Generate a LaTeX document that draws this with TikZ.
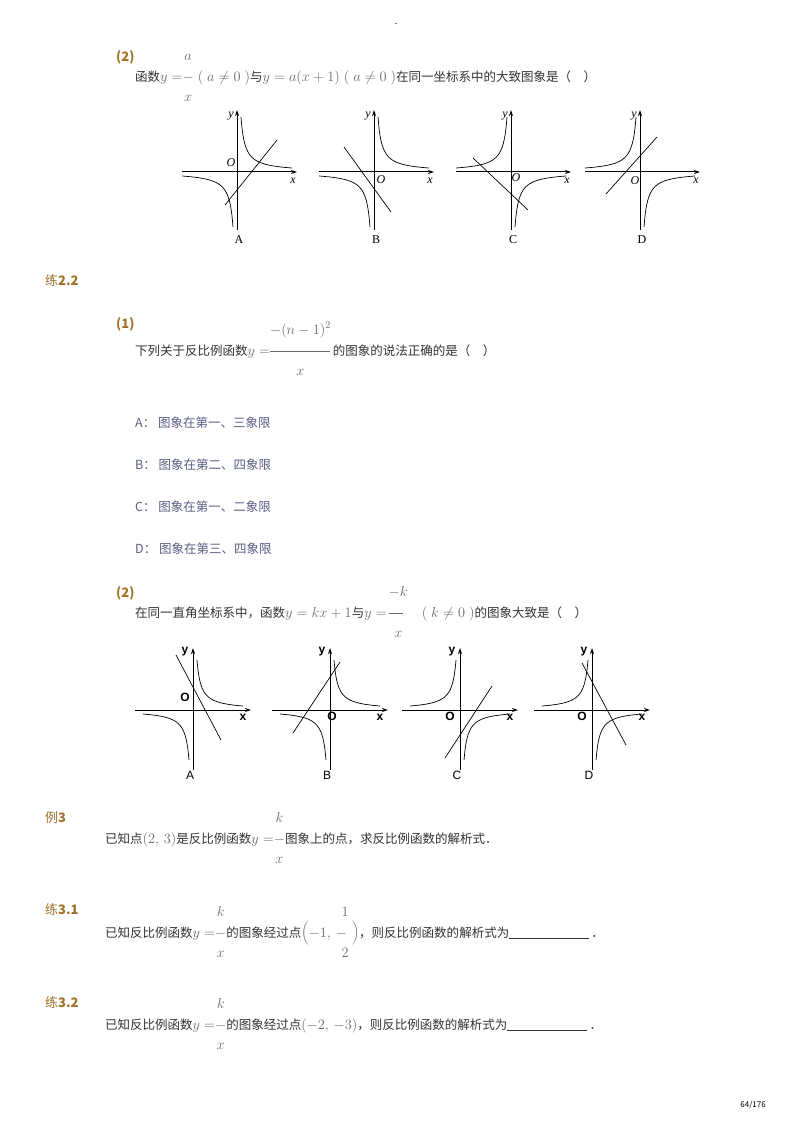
\documentclass[tikz,border=0pt]{standalone}
\usepackage{fontspec}
\setmainfont{Noto Sans CJK SC}
\newfontfamily\serf{Liberation Serif}
\newfontfamily\ars{Liberation Sans}
\usetikzlibrary{arrows.meta}
\definecolor{brn}{HTML}{A0722A}
\definecolor{txt}{HTML}{333333}
\definecolor{mth}{HTML}{6A6A6A}
\definecolor{opt}{HTML}{5A5F85}
\newcommand\stk[3]{\hbox{\ooalign{\hfil\raisebox{21pt}{#1}\hfil\cr\hfil\raisebox{-20pt}{#2}\hfil\cr#3\cr}}}
\newcommand\m[1]{{\color{mth}\fontsize{14}{16}\selectfont$#1$}}
\begin{document}
\begin{tikzpicture}[x=1pt,y=-1pt,
  lab/.style={font=\bfseries\fontsize{13}{15}\selectfont,text=brn,anchor=west,inner sep=0},
  ln/.style={font=\fontsize{12.5}{15}\selectfont,text=txt,anchor=base west,inner sep=0},
  op/.style={font=\fontsize{12.5}{15}\selectfont,text=opt,anchor=west,inner sep=0},
  ax/.style={line width=1pt,-{Stealth[length=6pt,width=4pt]}},
  cv/.style={line width=0.7pt},
  la/.style={font=\serf\itshape\fontsize{12}{14}\selectfont,inner sep=0},
  lb/.style={font=\serf\fontsize{12}{14}\selectfont,inner sep=0},
  sa/.style={font=\ars\bfseries\fontsize{12}{14}\selectfont,inner sep=0}]
\useasboundingbox[fill=white] (0,0) rectangle (800,1131);
\node[inner sep=0,font=\fontsize{8}{9}\selectfont] (dash) at (396,25) {-};
% ---- question (2) top
\node[lab] (q1) at (116,57) {(2)};
\node[ln] (l1) at (135,82) {函数\m{y=}\stk{\m{a}}{\m{x}}{\m{-}}\m{\;(\;a\neq0\;)}与\m{y=a(x+1)\;(\;a\neq0\;)}在同一坐标系中的大致图象是（\quad ）};
% graphs set 1
\foreach \ox/\L/\t in {237/A/1,374/B/2,511/C/3,640/D/4}{
  \coordinate (o\L) at (\ox,172);
  \draw[ax] (\ox-55,172) -- (\ox+60,172);
  \draw[ax] (\ox,230) -- (\ox,110);
  \node[la] (y\L) at (\ox-6,116) {y};
  \node[la] (x\L) at (\ox+56,181) {x};
  \node[lb] (n\L) at (\ox+2,240) {\L};
}
\node[la] (oA1) at (231,163) {O};
\node[la] (oB1) at (381,180) {O};
\node[la] (oC1) at (516,178) {O};
\node[la] (oD1) at (635,181) {O};
\begin{scope}[shift={(oA)}]
 \draw[cv] plot[domain=4:55,samples=50,smooth] (\x,{-220/\x});
 \draw[cv] plot[domain=-4:-55,samples=50,smooth] (\x,{-220/\x});
 \draw[cv] (-12,33) -- (40,-32);
\end{scope}
\begin{scope}[shift={(oB)}]
 \draw[cv] plot[domain=4:55,samples=50,smooth] (\x,{-220/\x});
 \draw[cv] plot[domain=-4:-55,samples=50,smooth] (\x,{-220/\x});
 \draw[cv] (-30,-25) -- (17,40);
\end{scope}
\begin{scope}[shift={(oC)}]
 \draw[cv] plot[domain=4:55,samples=50,smooth] (\x,{220/\x});
 \draw[cv] plot[domain=-4:-55,samples=50,smooth] (\x,{220/\x});
 \draw[cv] (-38,-14) -- (17,38);
\end{scope}
\begin{scope}[shift={(oD)}]
 \draw[cv] plot[domain=4:55,samples=50,smooth] (\x,{220/\x});
 \draw[cv] plot[domain=-4:-55,samples=50,smooth] (\x,{220/\x});
 \draw[cv] (-34,22) -- (17,-35);
\end{scope}
% ---- 练2.2
\node[lab] (p22) at (45,281) {\textmd{练}2.2};
\node[lab] (q21) at (116,324) {(1)};
\node[ln] (l2) at (135,355) {下列关于反比例函数\m{y=}\stk{\m{-(n-1)^2}}{\m{x}}{\m{\rule[3pt]{60pt}{0.6pt}}}\,的图象的说法正确的是（\quad ）};
\node[op] (oa) at (135,423) {A：\ 图象在第一、三象限};
\node[op] (ob) at (135,465) {B：\ 图象在第二、四象限};
\node[op] (oc) at (135,507) {C：\ 图象在第一、二象限};
\node[op] (od) at (135,549) {D：\ 图象在第三、四象限};
\node[lab] (q22) at (116,593) {(2)};
\node[ln] (l3) at (135,617) {在同一直角坐标系中，函数\m{y=kx+1}与\m{y=}\,\stk{\m{-k}}{\m{x}}{\m{\rule[3pt]{14pt}{0.6pt}}}\m{\quad(\;k\neq0\;)}的图象大致是（\quad ）};
% graphs set 2
\foreach \ox/\L in {193/A,330/B,460/C,592/D}{
  \coordinate (p\L) at (\ox,710);
  \draw[ax] (\ox-58,710) -- (\ox+58,710);
  \draw[ax] (\ox,770) -- (\ox,648);
  \node[sa] (Y\L) at (\ox-8,652) {y};
  \node[sa] (X\L) at (\ox+50,717) {x};
  \node[sa,font=\ars\fontsize{12}{14}\selectfont] (N\L) at (\ox-3,775) {\L};
}
\node[sa] (OA2) at (185,697) {O};
\node[sa] (OB2) at (332,716) {O};
\node[sa] (OC2) at (450,716) {O};
\node[sa] (OD2) at (582,716) {O};
\begin{scope}[shift={(pA)}]
 \draw[cv] plot[domain=4:50,samples=50,smooth] (\x,{-200/\x});
 \draw[cv] plot[domain=-4:-50,samples=50,smooth] (\x,{-200/\x});
 \draw[cv] (-17,-55) -- (28,30);
\end{scope}
\begin{scope}[shift={(pB)}]
 \draw[cv] plot[domain=4:50,samples=50,smooth] (\x,{-200/\x});
 \draw[cv] plot[domain=-4:-50,samples=50,smooth] (\x,{-200/\x});
 \draw[cv] (-37,23) -- (10,-48);
\end{scope}
\begin{scope}[shift={(pC)}]
 \draw[cv] plot[domain=4:50,samples=50,smooth] (\x,{200/\x});
 \draw[cv] plot[domain=-4:-50,samples=50,smooth] (\x,{200/\x});
 \draw[cv] (-15,48) -- (32,-24);
\end{scope}
\begin{scope}[shift={(pD)}]
 \draw[cv] plot[domain=4:50,samples=50,smooth] (\x,{200/\x});
 \draw[cv] plot[domain=-4:-50,samples=50,smooth] (\x,{200/\x});
 \draw[cv] (-10,-47) -- (34,35);
\end{scope}
% ---- 例3
\node[lab] (e3) at (45,818) {\textmd{例}3};
\node[ln] (l4) at (105,843) {已知点\m{(2,\,3)}是反比例函数\m{y=}\stk{\m{k}}{\m{x}}{\m{-}}图象上的点，求反比例函数的解析式．};
\node[lab] (p31) at (45,910) {\textmd{练}3.1};
\node[ln] (l5) at (105,937) {已知反比例函数\m{y=}\stk{\m{k}}{\m{x}}{\m{-}}的图象经过点\m{\left(-1,\,-\vphantom{\rule{0pt}{14pt}}\right.}\hspace{-8.5pt}\stk{\m{1}}{\m{2}}{\m{\phantom{-}}}\m{\left.\vphantom{\rule{0pt}{14pt}}\right)}，则反比例函数的解析式为\rule[-1pt]{80pt}{0.5pt}\,．};
\node[lab] (p32) at (45,1003) {\textmd{练}3.2};
\node[ln] (l6) at (105,1029) {已知反比例函数\m{y=}\stk{\m{k}}{\m{x}}{\m{-}}的图象经过点\m{(-2,\,-3)}，则反比例函数的解析式为\rule[-1pt]{80pt}{0.5pt}\,．};
\node[inner sep=0,font=\fontsize{8}{9}\selectfont,anchor=east] (pg) at (766,1105) {64/176};
\end{tikzpicture}
\end{document}
